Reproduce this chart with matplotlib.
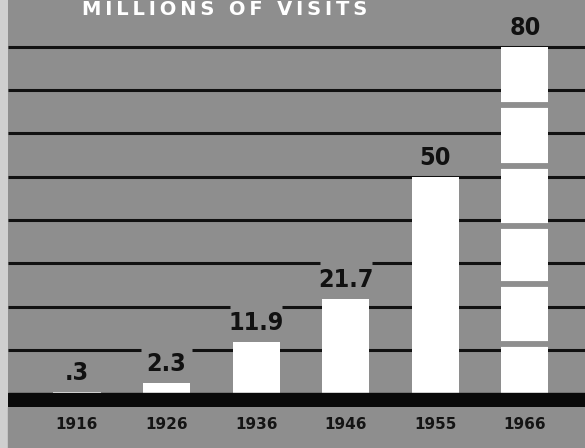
import numpy as np
import matplotlib
matplotlib.use('Agg')
import matplotlib.pyplot as plt

# Données
annees = ["1916", "1926", "1936", "1946", "1955", "1966"]
visites = [0.3, 2.3, 11.9, 21.7, 50, 80]
etiquettes = [".3", "2.3", "11.9", "21.7", "50", "80"]
niveaux_grille = [10, 20, 30, 40, 50, 60, 70, 80]
coupures_1966 = [11.3, 25.2, 38.6, 52.4, 66.5]
titre = "MILLIONS OF VISITS"

fond = "#8e8e8e"
W, H = 585, 448
fig = plt.figure(figsize=(W / 100, H / 100), dpi=100)
fig.patch.set_facecolor("#cfcfcf")

# axe : y=0 à 393 px, y=80 à 47 px
px_unite = (393 - 47) / 80
y_haut = 393 / px_unite
y_bas = -(407 - 393) / px_unite
ax = fig.add_axes([8 / W, 1 - 407 / H, 1 - 8 / W, 407 / H])
ax.set_facecolor(fond)
fig.add_artist(plt.Rectangle((8 / W, 0), 1, 1 - 407 / H, transform=fig.transFigure,
                             color=fond, zorder=0))

x = np.arange(len(annees))
largeur = 0.525
ax.set_xlim(-0.77, 5.67)
ax.set_ylim(y_bas, y_haut)

# lignes de grille, interrompues derrière les étiquettes proches
for g in niveaux_grille:
    trous = sorted((xi - largeur * 0.55, xi + largeur * 0.55)
                   for xi, v in zip(x, visites) if 0 < g - v < 9)
    debut = -0.77
    for a, b in trous:
        ax.hlines(g, debut, a, color="#111111", lw=2.2, zorder=1)
        debut = b
    ax.hlines(g, debut, 5.67, color="#111111", lw=2.2, zorder=1)

ax.bar(x, visites, width=largeur, color="white", zorder=2)

# la barre 1966 est découpée en blocs
for c in coupures_1966:
    ax.hlines(c, x[-1] - largeur / 2, x[-1] + largeur / 2, color=fond, lw=4.2, zorder=3)

# ligne de base épaisse
ax.axhspan(y_bas, 0, color="#0a0a0a", zorder=4)

for xi, v, lab in zip(x, visites, etiquettes):
    ax.annotate(lab, (xi, v), xytext=(0, 5), textcoords="offset points",
                ha="center", va="bottom", fontsize=18, fontweight="bold",
                fontstretch="condensed", family="DejaVu Sans",
                color="#111111", zorder=5)

ax.set_xticks(x)
ax.set_xticklabels(annees, fontsize=11, fontweight="bold", color="#141414")
ax.tick_params(axis="x", length=0, pad=7)
ax.set_yticks([])
for s in ax.spines.values():
    s.set_visible(False)

# titre espacé en haut
fig.text(225 / W, 1 - 15 / H, "\u2009".join(titre), ha="center", va="baseline",
         fontsize=14, fontweight="bold", color="white")

fig.savefig("out.png", dpi=100, facecolor=fig.get_facecolor())
